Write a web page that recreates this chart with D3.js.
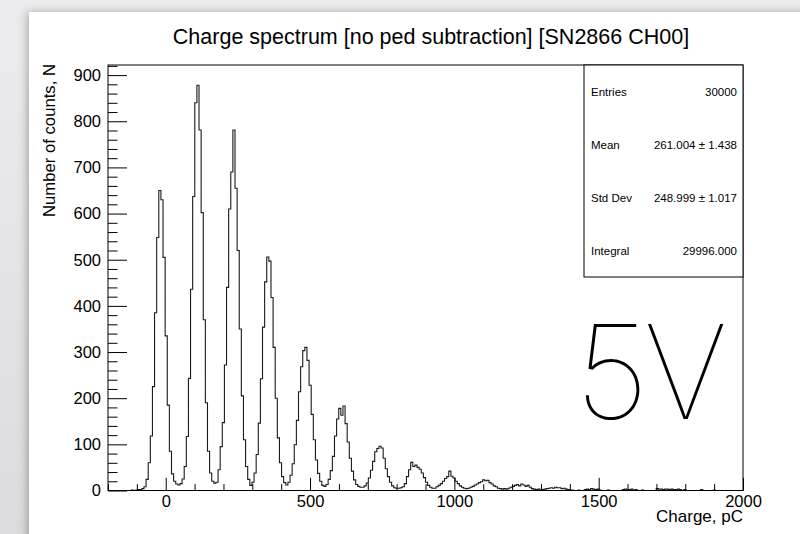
<!DOCTYPE html>
<html>
<head>
<meta charset="utf-8">
<script src="https://cdn.jsdelivr.net/npm/d3@7"></script>
<style>
  html, body { margin: 0; padding: 0; background: #e6e6e8; }
  svg { display: block; }
  text { font-family: "Liberation Sans", Arial, Helvetica, sans-serif; fill: #000; }
</style>
</head>
<body>
<svg id="chart" width="800" height="534"></svg>
<script>
// Histogram range and per-bin counts (300 bins from -200 to 2000 pC)
const histRange = [-200, 2000];
const counts = [
  // -200 … -127 pC
  0, 0, 0, 0, 0, 0, 0, 0, 0, 0,
  // pedestal
  0, 1, 0, 1, 2, 2, 4, 8,
  24, 60, 118, 225, 385, 548, 650, 630, 505, 335, 185, 85, 36, 20, 14, 12, 15,
  // 1 p.e.
  25, 52, 117, 243, 436, 637, 840, 878, 781, 602, 370, 190, 85, 38, 20, 16, 18,
  // 2 p.e.
  45, 95, 147, 272, 440, 610, 690, 781, 655, 520, 350, 205, 110, 52, 24, 11, 18,
  // 3 p.e.
  38, 78, 146, 242, 354, 452, 506, 497, 418, 310, 200, 114, 60, 30, 17, 12, 18,
  // 4 p.e.
  33, 58, 99, 152, 214, 268, 303, 310, 282, 228, 165, 110, 66, 37, 20, 11, 9,
  // 5 p.e.
  13, 24, 43, 74, 118, 155, 178, 163, 183, 145, 105, 70, 42, 23, 13, 9, 7,
  // 6 p.e.
  7, 10, 16, 27, 44, 63, 84, 91, 96, 92, 70, 47, 30, 18, 10, 6, 5,
  // 7 p.e.
  5, 6, 8, 15, 30, 45, 61, 52, 55, 50, 46, 38, 28, 18, 11, 7, 5,
  // 8 p.e.
  5, 8, 11, 15, 20, 26, 30, 42, 31, 27, 20, 15, 10, 7, 5, 4,
  // 9 p.e.
  5, 7, 9, 12, 14, 17, 19, 23, 21, 22, 17, 14, 10, 8, 5, 4, 3, 4, 3,
  // 10 p.e.
  5, 7, 9, 11, 13, 10, 14, 12, 9, 11, 7, 4, 3, 2, 3, 1,
  // 11 p.e. and sparse tail
  2, 3, 4, 5, 6, 5, 7, 6, 6, 4, 5, 3, 2, 0, 1, 0, 0, 1, 0, 0,
  2, 3, 2, 4, 3, 2, 3, 1,
  0, 0, 0, 1, 0, 0, 0, 0, 0, 0,
  2, 3, 2, 2, 3, 1, 2,
  0, 0, 1, 0, 0, 0, 0, 0, 0,
  4, 3, 3, 2, 3, 3, 2, 3, 2, 2, 3, 2, 0, 2, 0,
  0, 0, 0, 0, 0, 0,
  2,
  0, 0, 0, 0, 0,
  1,
  0, 0, 0, 0, 0, 0, 0, 0, 0, 0, 0, 0, 0
];

// Axis tick values
const xMajorTicks = [0, 500, 1000, 1500, 2000];
const yMajorTicks = [0, 100, 200, 300, 400, 500, 600, 700, 800, 900];
const xMinorStep = 100;
const yMinorStep = 20;

// Text
const titleText = "Charge spectrum [no ped subtraction] [SN2866 CH00]";
const xTitle = "Charge, pC";
const yTitle = "Number of counts, N";
const statNames = ["Entries", "Mean", "Std Dev", "Integral"];
const statValues = ["30000", "261.004 \u00b1 1.438", "248.999 \u00b1 1.017", "29996.000"];
const voltageLabel = "5V";

// ---- layout ----
const W = 800, H = 534;
const frame = { left: 108, right: 743, top: 65, bottom: 490.5 };

const svg = d3.select("#chart");
const defs = svg.append("defs");

// background and paper panel
const bg = defs.append("linearGradient").attr("id", "bgGrad")
  .attr("x1", 0).attr("y1", 0).attr("x2", 0).attr("y2", 1);
bg.append("stop").attr("offset", 0).attr("stop-color", "#ececee");
bg.append("stop").attr("offset", 1).attr("stop-color", "#dcdcdf");

const shadow = defs.append("filter").attr("id", "panelShadow")
  .attr("x", "-5%").attr("y", "-5%").attr("width", "110%").attr("height", "110%");
shadow.append("feDropShadow").attr("dx", -2).attr("dy", 0)
  .attr("stdDeviation", 4).attr("flood-color", "#000").attr("flood-opacity", 0.28);

svg.append("rect").attr("width", W).attr("height", H).attr("fill", "url(#bgGrad)");
svg.append("rect")
  .attr("x", 29).attr("y", 12).attr("width", W - 29 + 10).attr("height", H - 12 + 10)
  .attr("fill", "#fff").attr("filter", "url(#panelShadow)");

// ---- scales ----
const nBins = counts.length;
const binWidth = (histRange[1] - histRange[0]) / nBins;
const yMax = d3.max(counts) * 1.05;

const x = d3.scaleLinear().domain(histRange).range([frame.left, frame.right]);
const y = d3.scaleLinear().domain([0, yMax]).range([frame.bottom, frame.top]);

const plot = svg.append("g");

// ---- histogram outline ----
const stepPts = counts.map((c, i) => [histRange[0] + i * binWidth, c]);
stepPts.push([histRange[1], counts[nBins - 1]]);
const stepLine = d3.line()
  .x(d => x(d[0])).y(d => y(d[1]))
  .curve(d3.curveStepAfter);

plot.append("path")
  .datum(stepPts)
  .attr("d", stepLine)
  .attr("fill", "none")
  .attr("stroke", "#1a1a1a")
  .attr("stroke-width", 1.1);

// ---- axes ----
const xMinor = d3.range(histRange[0], histRange[1] + 1, xMinorStep).filter(v => !xMajorTicks.includes(v));
const yMinor = d3.range(0, yMax, yMinorStep).filter(v => !yMajorTicks.includes(v));

const labelFont = 16.5;

const xAxisMajor = d3.axisBottom(x).tickValues(xMajorTicks)
  .tickSizeInner(-12.7).tickSizeOuter(0).tickPadding(4.5)
  .tickFormat(d3.format("d"));
const xAxisMinor = d3.axisBottom(x).tickValues(xMinor)
  .tickSizeInner(-6.4).tickSizeOuter(0).tickFormat("");

const yAxisMajor = d3.axisLeft(y).tickValues(yMajorTicks)
  .tickSizeInner(-19).tickSizeOuter(0).tickPadding(7)
  .tickFormat(d3.format("d"));
const yAxisMinor = d3.axisLeft(y).tickValues(yMinor)
  .tickSizeInner(-9.5).tickSizeOuter(0).tickFormat("");

function styleAxis(g) {
  g.select(".domain").remove();
  g.selectAll("line").attr("stroke", "#000").attr("stroke-width", 1);
  g.selectAll("text").attr("font-size", labelFont)
    .attr("font-family", "\"Liberation Sans\", Arial, Helvetica, sans-serif")
    .attr("fill", "#000");
}

svg.append("g").attr("transform", `translate(0,${frame.bottom})`).call(xAxisMinor).call(styleAxis);
svg.append("g").attr("transform", `translate(0,${frame.bottom})`).call(xAxisMajor).call(styleAxis);
svg.append("g").attr("transform", `translate(${frame.left},0)`).call(yAxisMinor).call(styleAxis);
svg.append("g").attr("transform", `translate(${frame.left},0)`).call(yAxisMajor).call(styleAxis);

// ---- frame ----
svg.append("rect")
  .attr("x", frame.left).attr("y", frame.top)
  .attr("width", frame.right - frame.left).attr("height", frame.bottom - frame.top)
  .attr("fill", "none").attr("stroke", "#000").attr("stroke-width", 1);

// ---- statistics box ----
const stat = { left: 584, right: frame.right, top: frame.top, bottom: 277 };
const statG = svg.append("g");
statG.append("rect")
  .attr("x", stat.left).attr("y", stat.top)
  .attr("width", stat.right - stat.left).attr("height", stat.bottom - stat.top)
  .attr("fill", "#fff").attr("stroke", "#000").attr("stroke-width", 1);

const rowH = (stat.bottom - stat.top) / statNames.length;
statNames.forEach((name, i) => {
  const cy = stat.top + rowH * (i + 0.5);
  statG.append("text").attr("x", stat.left + 7).attr("y", cy).attr("dy", "0.35em")
    .attr("font-size", 11.5).text(name);
  statG.append("text").attr("x", stat.right - 6).attr("y", cy).attr("dy", "0.35em")
    .attr("text-anchor", "end").attr("font-size", 11.5).text(statValues[i]);
});

// ---- titles ----
svg.append("text").attr("x", 431).attr("y", 44)
  .attr("text-anchor", "middle").attr("font-size", 21.5).text(titleText);

svg.append("text").attr("x", frame.right).attr("y", 522)
  .attr("text-anchor", "end").attr("font-size", 17).text(xTitle);

svg.append("text")
  .attr("transform", `translate(55,${frame.top - 1}) rotate(-90)`)
  .attr("text-anchor", "end").attr("font-size", 16.7).text(yTitle);

// ---- voltage annotation ----
svg.append("text")
  .attr("x", 575).attr("y", 419)
  .style("font-family", "Inter, Roboto, Lato, sans-serif")
  .attr("font-weight", 100)
  .attr("font-size", 131)
  .attr("letter-spacing", -5)
  .attr("fill", "#555")
  .text(voltageLabel);
</script>
</body>
</html>
